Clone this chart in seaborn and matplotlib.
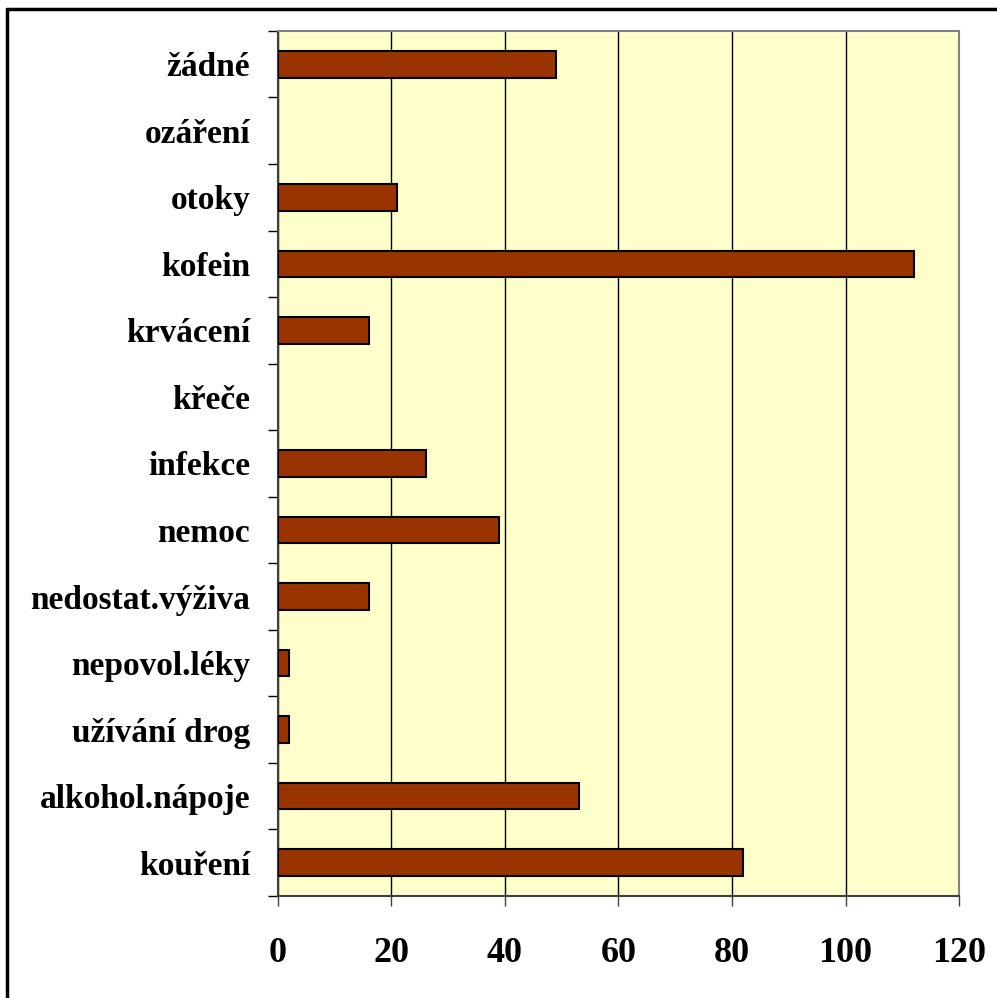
import matplotlib
matplotlib.use("Agg")
import matplotlib.pyplot as plt
import seaborn as sns
import pandas as pd
from matplotlib.lines import Line2D
from matplotlib.ticker import FixedLocator, NullFormatter

categories = ["žádné", "ozáření", "otoky", "kofein", "krvácení", "křeče", "infekce",
              "nemoc", "nedostat.výživa", "nepovol.léky", "užívání drog",
              "alkohol.nápoje", "kouření"]
values = [49, 0, 21, 112, 16, 0, 26, 39, 16, 2, 2, 53, 82]
x_ticks = [0, 20, 40, 60, 80, 100, 120]

df = pd.DataFrame({"kategorie": categories, "pocet": values})

sns.set_theme(style="white")
plt.rcParams["font.family"] = ["Liberation Serif", "DejaVu Serif"]
plt.rcParams["font.weight"] = "bold"
plt.rcParams["text.color"] = "black"
plt.rcParams["xtick.color"] = "black"
plt.rcParams["ytick.color"] = "black"

fig = plt.figure(figsize=(9.97, 9.98), dpi=100)
ax = fig.add_axes([0.2788, 0.1022, 0.9619 - 0.2788, 0.969 - 0.1022])
ax.set_facecolor("#FFFFCC")

sns.barplot(data=df, x="pocet", y="kategorie", orient="h", color="#993300",
            saturation=1, width=0.4, edgecolor="black", linewidth=1.5, ax=ax,
            zorder=3)

# zero-length bars should not leave an outline stub on the axis
for patch in ax.patches:
    if patch.get_width() == 0:
        patch.set_linewidth(0)

ax.set_xlim(0, 120)
ax.set_ylim(len(categories) - 0.5, -0.5)
ax.set_xticks(x_ticks)
ax.set_xticklabels([str(t) for t in x_ticks], fontsize=26, fontweight="bold",
                   color="black")
ax.xaxis.grid(True, color="black", linewidth=1.0, zorder=1)
ax.yaxis.grid(False)
ax.set_axisbelow(True)

# boundaries between categories carry tick marks; names sit at the centres
ax.yaxis.set_major_locator(FixedLocator([i - 0.5 for i in range(len(categories) + 1)]))
ax.yaxis.set_major_formatter(NullFormatter())
ax.yaxis.set_minor_locator(FixedLocator(list(range(len(categories)))))
ax.set_yticklabels(categories, minor=True, fontsize=24, fontweight="bold",
                   color="black")
ax.tick_params(axis="y", which="major", direction="out", length=7.5, width=1,
               color="black", left=True)
ax.tick_params(axis="y", which="minor", length=0, pad=20)
ax.tick_params(axis="x", direction="out", length=7.5, width=1, color="#404040",
               bottom=True, pad=22)

ax.set_xlabel("")
ax.set_ylabel("")
for side in ["top", "right"]:
    ax.spines[side].set_color("#808080")
    ax.spines[side].set_linewidth(1.5)
for side in ["left", "bottom"]:
    ax.spines[side].set_color("#404040")
    ax.spines[side].set_linewidth(1.5)

# outer frame: visible along the top and left edges
fig.add_artist(Line2D([7 / 997, 7 / 997], [0, 1 - 9 / 998], transform=fig.transFigure,
                      color="black", linewidth=2.5))
fig.add_artist(Line2D([7 / 997, 1], [1 - 9 / 998, 1 - 9 / 998], transform=fig.transFigure,
                      color="black", linewidth=2.5))

fig.savefig("out.png", dpi=100, facecolor="white")
